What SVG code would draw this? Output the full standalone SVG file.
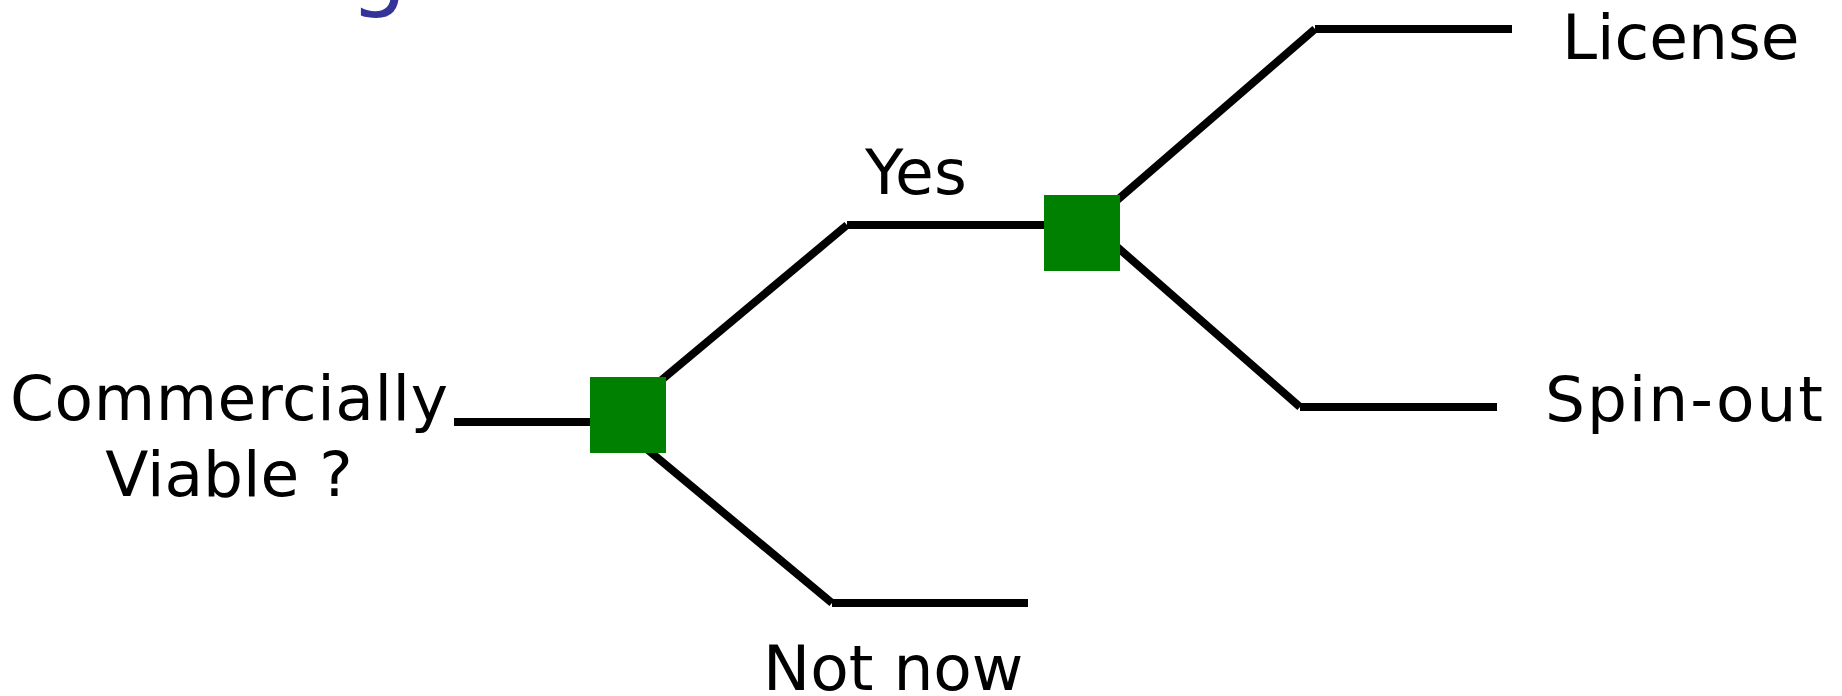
<svg xmlns="http://www.w3.org/2000/svg" width="1842" height="696" viewBox="0 0 1842 696">
<style>
.lbl{font-family:"DejaVu Sans","Verdana",sans-serif;font-size:63px;fill:#000}
.title{font-family:"DejaVu Sans","Verdana",sans-serif;font-size:90px;fill:#333399}
.dec{fill:#008000}
.con line{stroke:#000;stroke-width:8;stroke-linecap:butt}
</style>
<rect width="1842" height="696" fill="#fff"/>
<text class="title" x="350" y="-1">g</text>
<g id="connectors" class="con">
<line x1="454" y1="422" x2="600" y2="422"/>
<line x1="640" y1="398" x2="847" y2="225"/>
<line x1="847" y1="225" x2="1060" y2="225"/>
<line x1="630" y1="435" x2="832" y2="603"/>
<line x1="832" y1="603" x2="1028" y2="603"/>
<line x1="1100" y1="215" x2="1315" y2="29"/>
<line x1="1315" y1="29" x2="1512" y2="29"/>
<line x1="1100" y1="232" x2="1300" y2="407"/>
<line x1="1300" y1="407" x2="1497" y2="407"/>
</g>
<g id="decision1"><rect class="dec" x="590" y="377" width="76" height="76"/></g>
<g id="decision2"><rect class="dec" x="1044" y="195" width="76" height="76"/></g>
<g id="start"><text class="lbl" x="229" y="420" text-anchor="middle" textLength="438" lengthAdjust="spacing">Commercially</text><text class="lbl" x="229" y="496" text-anchor="middle">Viable ?</text></g>
<g id="yes"><text class="lbl" x="865" y="194">Yes</text></g>
<g id="notnow"><text class="lbl" x="763" y="690">Not now</text></g>
<g id="license"><text class="lbl" x="1562" y="59">License</text></g>
<g id="spinout"><text class="lbl" x="1545" y="421" textLength="278" lengthAdjust="spacing">Spin-out</text></g>
</svg>
